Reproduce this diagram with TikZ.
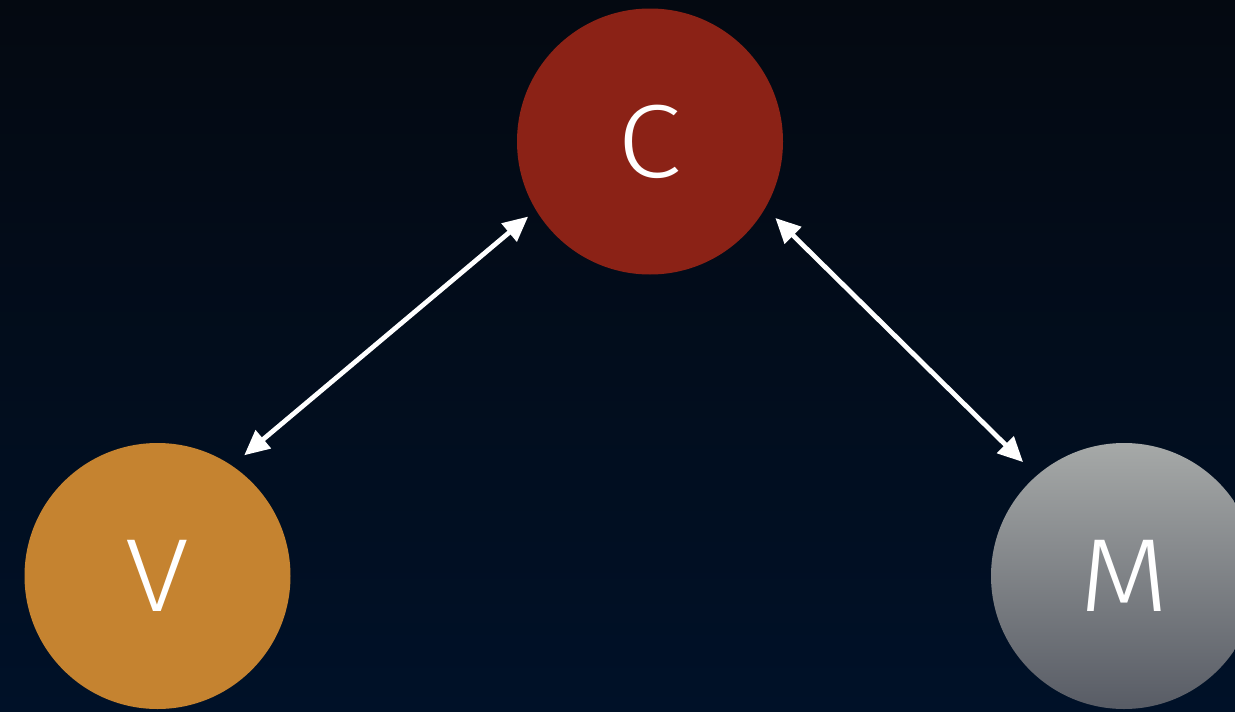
\documentclass[tikz,border=0pt]{standalone}
\usepackage{fontspec}
\setmainfont{Fira Sans Light}[FakeStretch=1.12]
\usetikzlibrary{arrows.meta}
\definecolor{bgtop}{RGB}{4,9,17}
\definecolor{bgbot}{RGB}{0,17,40}
\definecolor{cred}{RGB}{139,34,22}
\definecolor{vorange}{RGB}{197,131,48}
\definecolor{mtop}{RGB}{166,169,168}
\definecolor{mbot}{RGB}{88,92,101}
\tikzset{
  ball/.style={circle, minimum size=266pt, inner sep=0pt, text=white, font=\fontsize{104}{104}\selectfont},
  link/.style={white, line width=4.8pt, {Triangle[length=25pt,width=23pt]}-{Triangle[length=25pt,width=23pt]}}
}
\begin{document}
\begin{tikzpicture}[x=1pt,y=-1pt]
  \path[use as bounding box, top color=bgtop, bottom color=bgbot] (0,0) rectangle (1235,712);
  \begin{scope}
    \clip (0,0) rectangle (1235,712);
    \node[ball, fill=cred] (C) at (650,141.5) {C};
    \node[ball, fill=vorange] (V) at (157.5,576) {V};
    \node[ball, top color=mtop, bottom color=mbot] (M) at (1124,576) {M};
    \draw[link, shorten <=16pt, shorten >=10pt] (V.56) -- (C.211);
    \draw[link, shorten <=14pt, shorten >=19pt] (C.330) -- (M.131);
  \end{scope}
\end{tikzpicture}
\end{document}
